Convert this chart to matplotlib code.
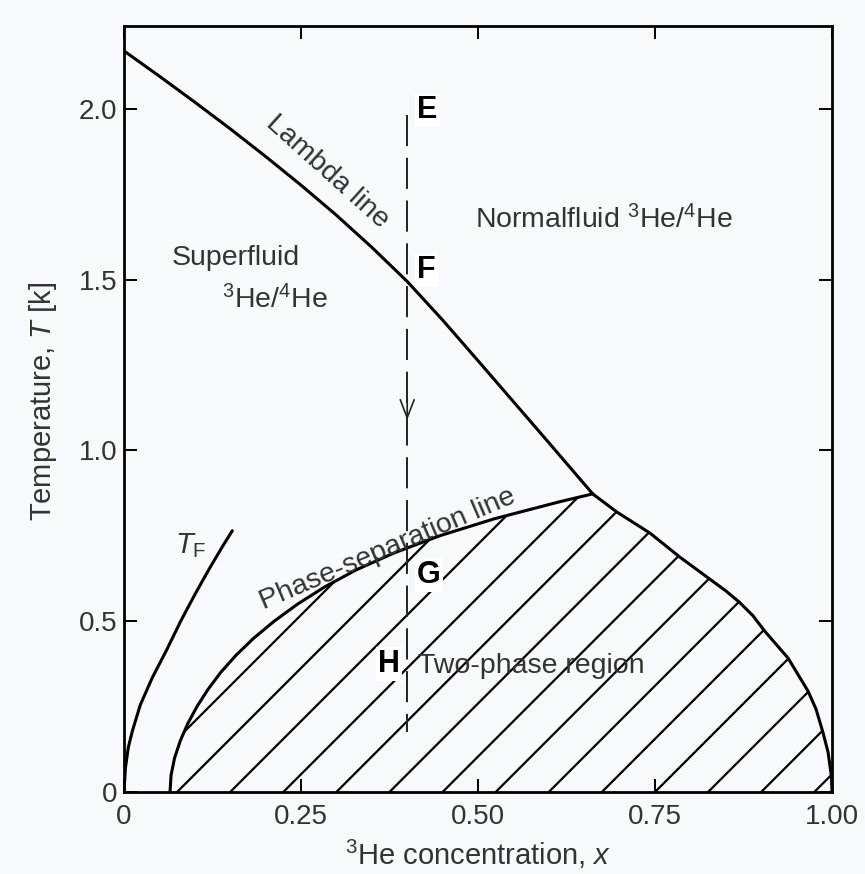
import matplotlib
matplotlib.use('Agg')
import matplotlib.pyplot as plt
from matplotlib.patches import Polygon
import numpy as np

plt.rcParams['font.family'] = ['Liberation Sans', 'DejaVu Sans']
plt.rcParams['mathtext.fontset'] = 'custom'
plt.rcParams['mathtext.rm'] = 'Liberation Sans'
plt.rcParams['mathtext.it'] = 'Liberation Sans:italic'
plt.rcParams['mathtext.bf'] = 'Liberation Sans:bold'

# lambda line (superfluid transition), x = 3He fraction, T in K
lambda_x = [0.0, 0.05, 0.10, 0.15, 0.20, 0.25, 0.30, 0.35, 0.40, 0.45, 0.50,
            0.55, 0.60, 0.662]
lambda_T = [2.17, 2.096, 2.020, 1.942, 1.861, 1.777, 1.689, 1.595, 1.495,
            1.382, 1.263, 1.143, 1.023, 0.873]

# phase-separation curve, 4He-rich branch (bottom -> tricritical point)
sep_left_x = [0.065, 0.0665, 0.0715, 0.0795, 0.090, 0.103, 0.1185, 0.1365,
              0.158, 0.183, 0.212, 0.245, 0.283, 0.3275, 0.3815, 0.4455,
              0.523, 0.6155, 0.662]
sep_left_T = [0.0, 0.05, 0.10, 0.15, 0.20, 0.25, 0.30, 0.35, 0.40, 0.45,
              0.50, 0.55, 0.60, 0.65, 0.70, 0.75, 0.80, 0.85, 0.873]

# phase-separation curve, 3He-rich branch (tricritical point -> x = 1)
sep_right_x = [0.662, 0.696, 0.743, 0.785, 0.827, 0.850, 0.869, 0.888, 0.905,
               0.938, 0.966, 0.9774, 0.987, 0.9944, 0.9993, 1.0]
sep_right_T = [0.873, 0.820, 0.758, 0.688, 0.624, 0.589, 0.556, 0.517, 0.471,
               0.392, 0.296, 0.243, 0.176, 0.117, 0.044, 0.0]

# Fermi temperature of the dilute 3He
tf_x = [0.0, 0.002, 0.006, 0.012, 0.023, 0.04, 0.06, 0.08, 0.10, 0.12, 0.14,
        0.153]
tf_T = [0.0, 0.07, 0.13, 0.18, 0.255, 0.335, 0.415, 0.50, 0.578, 0.652,
        0.722, 0.765]

# cooling path E -> H at fixed concentration
path_x = 0.40
path_T = [1.982, 0.176]
arrow_T = 1.089

point_labels = ['E', 'F', 'G', 'H']
point_x = [0.414, 0.414, 0.414, 0.359]
point_T = [1.974, 1.505, 0.612, 0.351]

x_ticks = [0, 0.25, 0.5, 0.75, 1.0]
x_ticklabels = ['0', '0.25', '0.50', '0.75', '1.00']
y_ticks = [0, 0.5, 1.0, 1.5, 2.0]
y_ticklabels = ['0', '0.5', '1.0', '1.5', '2.0']

T_MAX = 2.243
BG = '#f8f9fd'
TXT = '#333333'

W, H = 865, 874
left, bottom, aw, ah = 124, 82, 708, 766
fig = plt.figure(figsize=(W / 100, H / 100), dpi=100, facecolor=BG)
ax = fig.add_axes([left / W, bottom / H, aw / W, ah / H])
ax.set_facecolor(BG)
ax.set_xlim(0, 1)
ax.set_ylim(0, T_MAX)

curve = dict(color='k', lw=2.2, solid_capstyle='round',
             solid_joinstyle='round', zorder=3)
ax.plot(lambda_x, lambda_T, **curve)
sep_x = sep_left_x + sep_right_x[1:]
sep_T = sep_left_T + sep_right_T[1:]
ax.plot(sep_x, sep_T, **curve)
ax.plot(tf_x, tf_T, **curve)

# hatching of the two-phase region: 45 degree lines clipped to the curve
region = Polygon(np.column_stack([sep_x, sep_T]), closed=True,
                 facecolor='none', edgecolor='none')
ax.add_patch(region)
slope = aw / (ah / T_MAX)
for k in range(14):
    x0 = 0.075 * k
    ln, = ax.plot([x0, x0 + 1.0], [0, slope], color='k', lw=1.6, zorder=2)
    ln.set_clip_path(region)

# dashed cooling path with open arrow head
ax.plot([path_x, path_x], path_T, color='#222222', lw=1.4, dashes=(16, 6),
        zorder=4)
ax.annotate('', xy=(path_x, arrow_T), xytext=(path_x, arrow_T + 0.06),
            arrowprops=dict(arrowstyle='->,head_length=1.3,head_width=0.5',
                            color='#222222', lw=1.2, shrinkA=0, shrinkB=0),
            zorder=4)

for lab, px, pt in zip(point_labels, point_x, point_T):
    ax.text(px, pt, lab, fontsize=22, fontweight='bold', color='k',
            ha='left', va='baseline', zorder=5,
            bbox=dict(facecolor='white', edgecolor='none', pad=1.5))

ax.text(0.068, 1.543, 'Superfluid', fontsize=20.5, color=TXT, va='baseline')
ax.text(0.138, 1.417, r'$^{3}$He/$^{4}$He', fontsize=20.5, color=TXT,
        va='baseline')
ax.text(0.496, 1.652, r'Normalfluid $^{3}$He/$^{4}$He', fontsize=20.5,
        color=TXT, va='baseline')
ax.text(0.415, 0.348, 'Two-phase region', fontsize=20.5, color=TXT,
        va='baseline')
ax.text(0.287, 1.815, 'Lambda line', fontsize=20.5, color=TXT, rotation=-42,
        rotation_mode='anchor', ha='center', va='center')
ax.text(0.372, 0.712, 'Phase-separation line', fontsize=20.5, color=TXT,
        rotation=23, rotation_mode='anchor', ha='center', va='center')
ax.text(0.072, 0.70, r'$T_{\mathrm{F}}$', fontsize=21, color=TXT,
        va='baseline')

ax.set_xticks(x_ticks)
ax.set_xticklabels(x_ticklabels)
ax.set_yticks(y_ticks)
ax.set_yticklabels(y_ticklabels)
ax.tick_params(direction='in', length=9.5, width=1.4, top=True, right=True,
               labelsize=20, labelcolor=TXT)
ax.tick_params(axis='x', pad=9)
ax.tick_params(axis='y', pad=5)
for sp in ax.spines.values():
    sp.set_linewidth(2.0)

ax.set_xlabel(r'$^{3}$He concentration, $x$', fontsize=21, color=TXT,
              va='baseline')
ax.xaxis.set_label_coords(0.5, (792 - 865) / ah)
ax.set_ylabel(r'Temperature, $T$ [k]', fontsize=21, color=TXT)
ax.yaxis.set_label_coords(-0.092, 0.51)

fig.savefig('out.png', dpi=100, facecolor=BG)
